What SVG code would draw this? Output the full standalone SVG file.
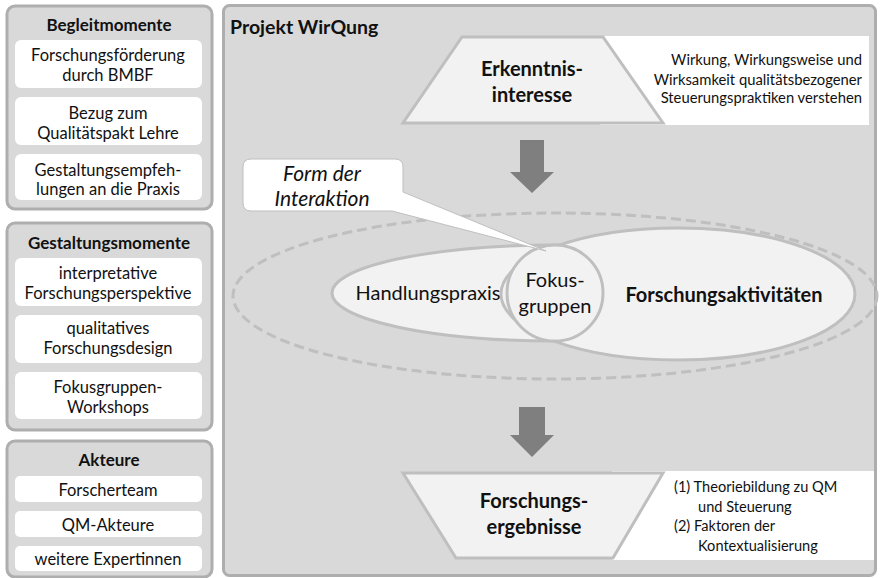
<svg xmlns="http://www.w3.org/2000/svg" width="882" height="578" viewBox="0 0 882 578">
<style>
.panel{fill:#d9d9d9;stroke:#aeaeae;stroke-width:3}
.wbox{fill:#ffffff;stroke:none}
.t{font-family:Lato,"Liberation Sans",sans-serif;fill:#111111;text-anchor:middle}
.b{font-weight:bold}
.s{font-size:16.5px}
.h{font-size:17px;font-weight:bold}
.big{font-size:20px}
.lt{fill:#f2f2f2;stroke:#bfbfbf;stroke-width:3}
.arr{fill:#7f7f7f}
</style>
<rect width="882" height="578" fill="#ffffff"/>

<g id="begleitmomente">
<rect class="panel" x="7" y="6" width="205" height="203" rx="8"/>
<text class="t h" x="109" y="31">Begleitmomente</text>
<rect class="wbox" x="15" y="40" width="187" height="48" rx="6"/>
<text class="t s" x="108" y="61">Forschungsförderung</text>
<text class="t s" x="108" y="81">durch  BMBF</text>
<rect class="wbox" x="15" y="97" width="187" height="48" rx="6"/>
<text class="t s" x="108" y="119">Bezug zum</text>
<text class="t s" x="108" y="139">Qualitätspakt Lehre</text>
<rect class="wbox" x="15" y="154" width="187" height="46" rx="6"/>
<text class="t s" x="108" y="176">Gestaltungsempfeh-</text>
<text class="t s" x="108" y="195">lungen an die Praxis</text>
</g>

<g id="gestaltungsmomente">
<rect class="panel" x="7" y="223" width="205" height="207" rx="8"/>
<text class="t h" x="109" y="249">Gestaltungsmomente</text>
<rect class="wbox" x="15" y="258" width="187" height="48" rx="6"/>
<text class="t s" x="108" y="279">interpretative</text>
<text class="t s" x="108" y="299">Forschungsperspektive</text>
<rect class="wbox" x="15" y="315" width="187" height="48" rx="6"/>
<text class="t s" x="108" y="334">qualitatives</text>
<text class="t s" x="108" y="354">Forschungsdesign</text>
<rect class="wbox" x="15" y="372" width="187" height="47" rx="6"/>
<text class="t s" x="108" y="393">Fokusgruppen-</text>
<text class="t s" x="108" y="413">Workshops</text>
</g>

<g id="akteure">
<rect class="panel" x="7" y="441" width="205" height="136" rx="8"/>
<text class="t h" x="109" y="466">Akteure</text>
<rect class="wbox" x="15" y="476" width="187" height="26" rx="5"/>
<text class="t s" x="108" y="495.5">Forscherteam</text>
<rect class="wbox" x="15" y="511" width="187" height="26" rx="5"/>
<text class="t s" x="108" y="530.5">QM-Akteure</text>
<rect class="wbox" x="15" y="546" width="187" height="25" rx="5"/>
<text class="t s" x="108" y="565">weitere Expertinnen</text>
</g>

<g id="projekt">
<rect class="panel" x="223.5" y="5.5" width="652" height="570" rx="6"/>
<text class="t b" x="230" y="34" font-size="19.5" style="text-anchor:start">Projekt WirQung</text>
</g>

<g id="erkenntnisinteresse">
<rect class="wbox" x="600" y="36" width="269" height="89"/>
<text class="t" x="862" y="65" font-size="14.8" style="text-anchor:end">Wirkung, Wirkungsweise und</text>
<text class="t" x="862" y="85" font-size="14.8" style="text-anchor:end">Wirksamkeit qualitätsbezogener</text>
<text class="t" x="862" y="103" font-size="14.8" style="text-anchor:end">Steuerungspraktiken verstehen</text>
<polygon class="lt" points="462,37 603,37 663,123 403,123"/>
<text class="t b big" x="532" y="76">Erkenntnis-</text>
<text class="t b big" x="532" y="102">interesse</text>
</g>

<g id="interaktion">
<ellipse cx="555" cy="296" rx="322" ry="83" fill="none" stroke="#bfbfbf" stroke-width="3" stroke-dasharray="10,5"/>
<ellipse class="lt" cx="555" cy="293" rx="223" ry="48"/>
<ellipse class="lt" cx="678" cy="294" rx="177" ry="66"/>
<circle class="lt" cx="555" cy="293" r="48"/>
<text class="t big" x="428" y="300">Handlungspraxis</text>
<text class="t big" x="555" y="287">Fokus-</text>
<text class="t big" x="555" y="313">gruppen</text>
<text class="t b big" x="724" y="302">Forschungsaktivitäten</text>
</g>

<g id="callout">
<path d="M251,159 H395 Q403,159 403,167 V192 L546,251 L392,211 H251 Q243,211 243,203 V167 Q243,159 251,159 Z" fill="#ffffff" stroke="#bfbfbf" stroke-width="1"/>
<text class="t" x="322" y="180.5" font-size="21" font-style="italic">Form der</text>
<text class="t" x="322" y="205.5" font-size="21" font-style="italic">Interaktion</text>
</g>

<g id="ergebnisse">
<rect class="wbox" x="612" y="471" width="262" height="89"/>
<polygon class="lt" points="403,473 663,473 613,558 456,558"/>
<text class="t b big" x="534" y="508">Forschungs-</text>
<text class="t b big" x="534" y="534">ergebnisse</text>
<text class="t" x="674" y="492" font-size="14.6" style="text-anchor:start">(1) Theoriebildung  zu QM</text>
<text class="t" x="698" y="512" font-size="14.6" style="text-anchor:start">und Steuerung</text>
<text class="t" x="674" y="531" font-size="14.6" style="text-anchor:start">(2) Faktoren der</text>
<text class="t" x="698" y="551" font-size="14.6" style="text-anchor:start">Kontextualisierung</text>
</g>

<g id="connectors">
<polygon class="arr" points="520,140 544,140 544,172 554,172 532,193 510,172 520,172"/>
<polygon class="arr" points="519,407 545,407 545,435 554,435 532,457 510,435 519,435"/>
</g>
</svg>
